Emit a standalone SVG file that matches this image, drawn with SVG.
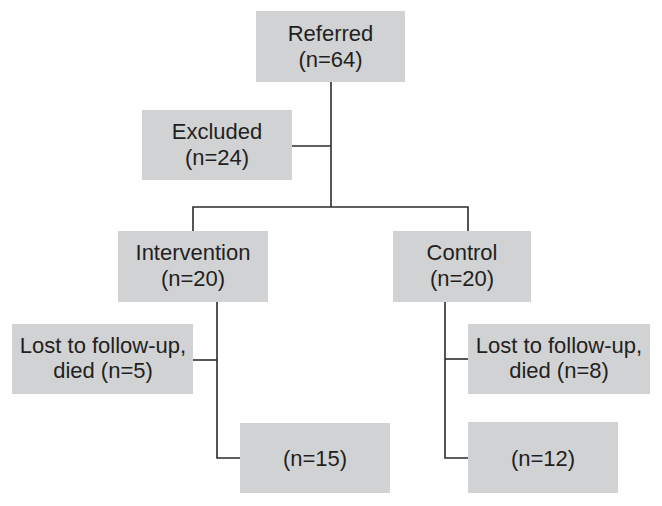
<svg xmlns="http://www.w3.org/2000/svg" width="662" height="506" viewBox="0 0 662 506">
<style>
.box{fill:#d1d2d4;}
.t{font-family:"Liberation Sans",Arial,sans-serif;font-size:22px;fill:#231f20;text-anchor:middle;}
.c{fill:none;stroke:#2b2b2b;stroke-width:1.6;}
</style>
<rect width="662" height="506" fill="#ffffff"/>
<g id="connectors">
<path class="c" d="M331,82 V207"/>
<path class="c" d="M292,146 H331"/>
<path class="c" d="M193,231 V207 H468 V231"/>
<path class="c" d="M217,302 V458 H240"/>
<path class="c" d="M193,360 H217"/>
<path class="c" d="M445,302 V458 H468"/>
<path class="c" d="M445,359 H468"/>
</g>
<g id="referred"><rect class="box" x="256" y="11" width="149" height="71"/><text class="t" x="330.5" y="41">Referred</text><text class="t" x="330.5" y="67">(n=64)</text></g>
<g id="excluded"><rect class="box" x="142" y="110" width="150" height="70"/><text class="t" x="217" y="139">Excluded</text><text class="t" x="217" y="165">(n=24)</text></g>
<g id="intervention"><rect class="box" x="118" y="231" width="150" height="71"/><text class="t" x="193" y="260">Intervention</text><text class="t" x="193" y="286">(n=20)</text></g>
<g id="control"><rect class="box" x="393" y="231" width="138" height="71"/><text class="t" x="462" y="260">Control</text><text class="t" x="462" y="286">(n=20)</text></g>
<g id="lost-left"><rect class="box" x="12" y="324" width="181" height="70"/><text class="t" x="103" y="353">Lost to follow-up,</text><text class="t" x="103" y="378">died (n=5)</text></g>
<g id="lost-right"><rect class="box" x="468" y="324" width="182" height="70"/><text class="t" x="559" y="353">Lost to follow-up,</text><text class="t" x="559" y="378">died (n=8)</text></g>
<g id="n15"><rect class="box" x="240" y="423" width="150" height="70"/><text class="t" x="315" y="466">(n=15)</text></g>
<g id="n12"><rect class="box" x="468" y="422" width="150" height="71"/><text class="t" x="543" y="466">(n=12)</text></g>
</svg>
